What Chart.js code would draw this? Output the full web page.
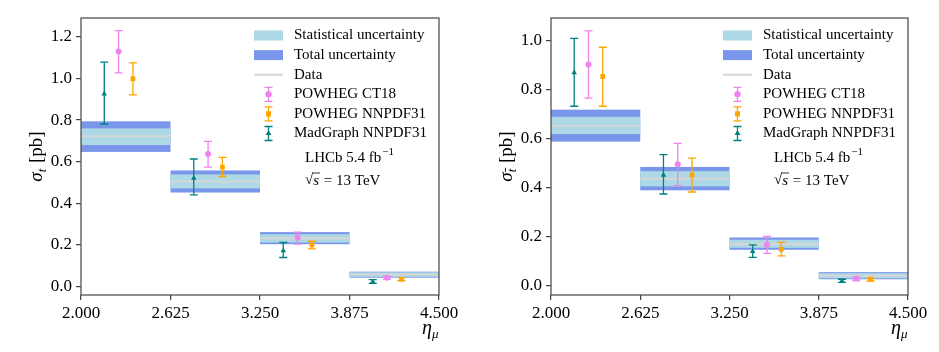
<!DOCTYPE html>
<html>
<head>
<meta charset="utf-8">
<script src="https://cdn.jsdelivr.net/npm/chart.js@4.4.1/dist/chart.umd.min.js"></script>
<style>
  body { margin: 0; background: #fff; }
  #wrap { position: relative; width: 939px; height: 352px; }
  canvas { position: absolute; top: 0; }
</style>
</head>
<body>
<div id="wrap">
  <canvas id="left" width="470" height="352" style="left:0"></canvas>
  <canvas id="right" width="469" height="352" style="left:470px"></canvas>
</div>
<script>
// eta_mu binning, shared by both panels
const binEdges = [2.0, 2.625, 3.25, 3.875, 4.5];
const xTicks = [2.0, 2.625, 3.25, 3.875, 4.5];
// x shift of each prediction inside a bin: MadGraph, CT18, NNPDF31
const modelShift = [-0.15, -0.05, 0.05];

// sigma_t (left panel)
const tTicks = [0.0, 0.2, 0.4, 0.6, 0.8, 1.0, 1.2];
const tData = [0.722, 0.505, 0.233, 0.059];
const tStatLo = [0.680, 0.472, 0.212, 0.047];
const tStatHi = [0.760, 0.539, 0.252, 0.069];
const tTotLo = [0.647, 0.452, 0.204, 0.043];
const tTotHi = [0.794, 0.558, 0.262, 0.072];
const tCT18 = [1.129, 0.637, 0.236, 0.043];
const tCT18Lo = [1.027, 0.574, 0.204, 0.035];
const tCT18Hi = [1.229, 0.698, 0.262, 0.051];
const tNNPDF = [0.998, 0.574, 0.200, 0.035];
const tNNPDFLo = [0.921, 0.529, 0.181, 0.029];
const tNNPDFHi = [1.075, 0.621, 0.218, 0.043];
const tMG = [0.926, 0.521, 0.173, 0.024];
const tMGLo = [0.781, 0.441, 0.140, 0.016];
const tMGHi = [1.078, 0.613, 0.212, 0.034];

// sigma_tbar (right panel)
const tbTicks = [0.0, 0.2, 0.4, 0.6, 0.8, 1.0];
const tbData = [0.652, 0.436, 0.171, 0.041];
const tbStatLo = [0.618, 0.405, 0.155, 0.031];
const tbStatHi = [0.688, 0.467, 0.188, 0.052];
const tbTotLo = [0.587, 0.389, 0.147, 0.027];
const tbTotHi = [0.717, 0.484, 0.197, 0.056];
const tbCT18 = [0.901, 0.495, 0.167, 0.030];
const tbCT18Lo = [0.764, 0.408, 0.132, 0.022];
const tbCT18Hi = [1.038, 0.580, 0.201, 0.037];
const tbNNPDF = [0.852, 0.451, 0.149, 0.027];
const tbNNPDFLo = [0.731, 0.382, 0.122, 0.020];
const tbNNPDFHi = [0.971, 0.520, 0.177, 0.033];
const tbMG = [0.868, 0.451, 0.140, 0.020];
const tbMGLo = [0.731, 0.374, 0.116, 0.014];
const tbMGHi = [1.007, 0.534, 0.167, 0.027];

const SERIF = '"Liberation Serif", "DejaVu Serif", serif';
const STAT_COLOR = '#add8e6';
const TOTAL_COLOR = 'rgba(65, 105, 225, 0.7)';
const DATA_COLOR = '#d6d6d6';
const FRAME_COLOR = '#444';
const LEGEND_FONT = '15px ' + SERIF;

function drawErrorIcon(ctx, cx, cy, color, style) {
    ctx.strokeStyle = color;
    ctx.lineWidth = 1.3;
    ctx.beginPath();
    ctx.moveTo(cx, cy - 7); ctx.lineTo(cx, cy + 7);
    ctx.moveTo(cx - 4, cy - 7); ctx.lineTo(cx + 4, cy - 7);
    ctx.moveTo(cx - 4, cy + 7); ctx.lineTo(cx + 4, cy + 7);
    ctx.stroke();
    ctx.fillStyle = color;
    ctx.beginPath();
    Chart.helpers.drawPoint(ctx, { pointStyle: style.pointStyle, radius: style.radius, borderWidth: 0 }, cx, cy);
    ctx.fill();
}

function hepPlugin(p) {
    return {
        id: 'hep',
        beforeDatasetsDraw(chart) {
            const { ctx, scales: { x, y } } = chart;
            ctx.save();
            // uncertainty bands + data line
            for (let i = 0; i < p.data.length; i++) {
                const x0 = x.getPixelForValue(binEdges[i]);
                const x1 = x.getPixelForValue(binEdges[i + 1]);
                ctx.fillStyle = TOTAL_COLOR;
                ctx.fillRect(x0, y.getPixelForValue(p.totHi[i]), x1 - x0,
                    y.getPixelForValue(p.totLo[i]) - y.getPixelForValue(p.totHi[i]));
                ctx.fillStyle = STAT_COLOR;
                ctx.fillRect(x0, y.getPixelForValue(p.statHi[i]), x1 - x0,
                    y.getPixelForValue(p.statLo[i]) - y.getPixelForValue(p.statHi[i]));
                ctx.strokeStyle = DATA_COLOR;
                ctx.lineWidth = 2;
                ctx.beginPath();
                ctx.moveTo(x0, y.getPixelForValue(p.data[i]));
                ctx.lineTo(x1, y.getPixelForValue(p.data[i]));
                ctx.stroke();
            }
            // error bars of the predictions
            chart.data.datasets.forEach(ds => {
                ctx.strokeStyle = ds.borderColor;
                ctx.lineWidth = 1.3;
                ds.data.forEach((pt, i) => {
                    const px = x.getPixelForValue(pt.x);
                    const yl = y.getPixelForValue(ds.errLo[i]);
                    const yh = y.getPixelForValue(ds.errHi[i]);
                    ctx.beginPath();
                    ctx.moveTo(px, yl); ctx.lineTo(px, yh);
                    ctx.moveTo(px - 4, yl); ctx.lineTo(px + 4, yl);
                    ctx.moveTo(px - 4, yh); ctx.lineTo(px + 4, yh);
                    ctx.stroke();
                });
            });
            ctx.restore();
        },
        afterDraw(chart) {
            const { ctx, chartArea: a } = chart;
            ctx.save();
            // frame
            ctx.strokeStyle = FRAME_COLOR;
            ctx.lineWidth = 1.2;
            ctx.strokeRect(a.left, a.top, a.right - a.left, a.bottom - a.top);

            // legend
            const lx = a.right - 185;
            const tx = a.right - 145;
            const rowY = k => a.top + 17.5 + 19.6 * k;
            ctx.font = LEGEND_FONT;
            ctx.textBaseline = 'middle';
            ctx.textAlign = 'left';
            ctx.fillStyle = STAT_COLOR;
            ctx.fillRect(lx, rowY(0) - 5, 29, 10);
            ctx.fillStyle = TOTAL_COLOR;
            ctx.fillRect(lx, rowY(1) - 5, 29, 10);
            ctx.strokeStyle = DATA_COLOR;
            ctx.lineWidth = 2;
            ctx.beginPath();
            ctx.moveTo(lx, rowY(2)); ctx.lineTo(lx + 29, rowY(2));
            ctx.stroke();
            const names = ['Statistical uncertainty', 'Total uncertainty', 'Data'];
            chart.data.datasets.forEach((ds, k) => {
                drawErrorIcon(ctx, lx + 14.5, rowY(3 + k), ds.borderColor, ds);
            });
            ctx.fillStyle = '#000';
            names.forEach((n, k) => ctx.fillText(n, tx, rowY(k)));
            chart.data.datasets.forEach((ds, k) => ctx.fillText(ds.label, tx, rowY(3 + k)));

            // experiment label
            const ax = a.right - 134;
            const ay = a.top + 140.5;
            ctx.fillText('LHCb 5.4 fb', ax, ay);
            const w1 = ctx.measureText('LHCb 5.4 fb').width;
            ctx.font = '11px ' + SERIF;
            ctx.fillText('\u22121', ax + w1 + 1, ay - 6);
            ctx.font = LEGEND_FONT;
            const by = a.top + 162.5;
            ctx.fillText('\u221A', ax, by);
            const wr = ctx.measureText('\u221A').width;
            ctx.font = 'italic 15px ' + SERIF;
            ctx.fillText('s', ax + wr, by + 1);
            const ws = ctx.measureText('s').width;
            ctx.strokeStyle = '#000';
            ctx.lineWidth = 0.8;
            ctx.beginPath();
            ctx.moveTo(ax + wr - 0.5, by - 7.5); ctx.lineTo(ax + wr + ws + 1, by - 7.5);
            ctx.stroke();
            ctx.font = LEGEND_FONT;
            ctx.fillText(' = 13 TeV', ax + wr + ws + 1, by + 1);

            // y axis title
            ctx.save();
            ctx.translate(37, (a.top + a.bottom) / 2);
            ctx.rotate(-Math.PI / 2);
            ctx.textBaseline = 'alphabetic';
            ctx.font = 'italic 19px ' + SERIF;
            const wSig = ctx.measureText('\u03C3').width;
            ctx.font = 'italic 13px ' + SERIF;
            const wSub = ctx.measureText('t').width;
            ctx.font = '19px ' + SERIF;
            const wUnit = ctx.measureText(' [pb]').width;
            let sx = -(wSig + wSub + 1 + wUnit) / 2;
            ctx.fillStyle = '#000';
            ctx.font = 'italic 19px ' + SERIF;
            ctx.fillText('\u03C3', sx, 5);
            ctx.font = 'italic 13px ' + SERIF;
            ctx.fillText('t', sx + wSig, 9);
            if (p.bar) {
                ctx.lineWidth = 0.9;
                ctx.beginPath();
                ctx.moveTo(sx + wSig + 0.5, -1.5); ctx.lineTo(sx + wSig + wSub + 1, -1.5);
                ctx.stroke();
            }
            ctx.font = '19px ' + SERIF;
            ctx.fillText(' [pb]', sx + wSig + wSub + 1, 5);
            ctx.restore();

            // x axis title
            ctx.textBaseline = 'alphabetic';
            ctx.font = 'italic 20px ' + SERIF;
            const ex = a.right - 17;
            ctx.fillText('\u03B7', ex, 334);
            const we = ctx.measureText('\u03B7').width;
            ctx.font = 'italic 13px ' + SERIF;
            ctx.fillText('\u03BC', ex + we, 338);
            ctx.restore();
        }
    };
}

function makePanel(id, p) {
    const centers = binEdges.slice(0, -1).map((lo, i) => (lo + binEdges[i + 1]) / 2);
    const series = [
        { label: 'POWHEG CT18', color: '#ee82ee', pointStyle: 'circle', radius: 3, shift: modelShift[1], v: p.ct18, lo: p.ct18Lo, hi: p.ct18Hi },
        { label: 'POWHEG NNPDF31', color: '#ffa500', pointStyle: 'rect', radius: 3.4, shift: modelShift[2], v: p.nnpdf, lo: p.nnpdfLo, hi: p.nnpdfHi },
        { label: 'MadGraph NNPDF31', color: '#008080', pointStyle: 'triangle', radius: 3.2, shift: modelShift[0], v: p.mg, lo: p.mgLo, hi: p.mgHi }
    ];
    return new Chart(document.getElementById(id), {
        type: 'scatter',
        data: {
            datasets: series.map(s => ({
                label: s.label,
                data: centers.map((c, i) => ({ x: c + s.shift, y: s.v[i] })),
                errLo: s.lo,
                errHi: s.hi,
                pointStyle: s.pointStyle,
                pointRadius: s.radius,
                radius: s.radius,
                backgroundColor: s.color,
                borderColor: s.color,
                borderWidth: 0
            }))
        },
        options: {
            responsive: false,
            animation: false,
            layout: { padding: { top: 18, right: 31, left: 0, bottom: 0 } },
            plugins: { legend: { display: false }, tooltip: { enabled: false } },
            scales: {
                x: {
                    type: 'linear',
                    min: 2.0,
                    max: 4.5,
                    afterBuildTicks: s => { s.ticks = xTicks.map(v => ({ value: v })); },
                    afterFit: s => { s.height = 57; },
                    border: { display: false },
                    grid: { drawOnChartArea: false, drawTicks: true, tickLength: 5, color: FRAME_COLOR, lineWidth: 1.2 },
                    ticks: {
                        color: '#000',
                        font: { family: SERIF, size: 17 },
                        padding: 3,
                        maxRotation: 0,
                        autoSkip: false,
                        callback: v => v.toFixed(3)
                    }
                },
                y: {
                    type: 'linear',
                    min: p.yMin,
                    max: p.yMax,
                    afterBuildTicks: s => { s.ticks = p.ticks.map(v => ({ value: v })); },
                    afterFit: s => { s.width = 81; },
                    border: { display: false },
                    grid: { drawOnChartArea: false, drawTicks: true, tickLength: 5, color: FRAME_COLOR, lineWidth: 1.2 },
                    ticks: {
                        color: '#000',
                        font: { family: SERIF, size: 17 },
                        padding: 4,
                        callback: v => v.toFixed(1)
                    }
                }
            }
        },
        plugins: [hepPlugin(p)]
    });
}

makePanel('left', {
    yMin: -0.04, yMax: 1.29, ticks: tTicks, bar: false,
    data: tData, statLo: tStatLo, statHi: tStatHi, totLo: tTotLo, totHi: tTotHi,
    ct18: tCT18, ct18Lo: tCT18Lo, ct18Hi: tCT18Hi,
    nnpdf: tNNPDF, nnpdfLo: tNNPDFLo, nnpdfHi: tNNPDFHi,
    mg: tMG, mgLo: tMGLo, mgHi: tMGHi
});

makePanel('right', {
    yMin: -0.037, yMax: 1.09, ticks: tbTicks, bar: true,
    data: tbData, statLo: tbStatLo, statHi: tbStatHi, totLo: tbTotLo, totHi: tbTotHi,
    ct18: tbCT18, ct18Lo: tbCT18Lo, ct18Hi: tbCT18Hi,
    nnpdf: tbNNPDF, nnpdfLo: tbNNPDFLo, nnpdfHi: tbNNPDFHi,
    mg: tbMG, mgLo: tbMGLo, mgHi: tbMGHi
});
</script>
</body>
</html>
